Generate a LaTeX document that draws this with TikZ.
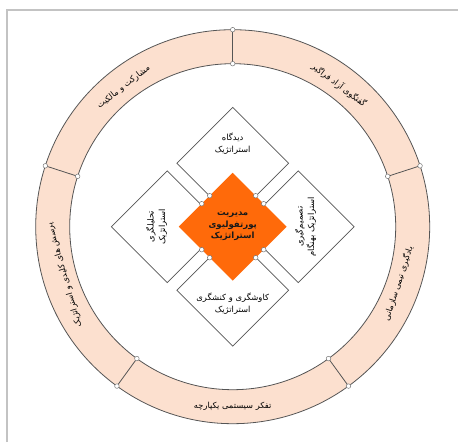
\documentclass[tikz,border=0pt]{standalone}
\usepackage{fontspec}
\TeXXeTstate=1
\newfontfamily\fa[Script=Arabic]{DejaVu Sans}
\usetikzlibrary{shapes.geometric}
\definecolor{ringfill}{RGB}{252,224,207}
\definecolor{orangec}{RGB}{255,106,10}
\definecolor{edgegray}{RGB}{85,85,85}
\definecolor{dotgray}{RGB}{120,120,120}
\definecolor{framegray}{RGB}{195,195,195}
\begin{document}
\begin{tikzpicture}[x=1pt,y=1pt,
  wdiam/.style={diamond, draw=edgegray, line width=0.7pt, fill=white, minimum width=112pt, minimum height=112pt, inner sep=0pt, aspect=1},
  odiam/.style={diamond, fill=orangec, minimum width=108pt, minimum height=108pt, inner sep=0pt, aspect=1},
  dtext/.style={font=\fa\fontsize{8.4}{11.5}\selectfont, align=center, inner sep=0pt, text=black},
  ctext/.style={font=\fa\bfseries\fontsize{8.6}{11.5}\selectfont, align=center, inner sep=0pt, text=black!90},
  rtext/.style={font=\fa\fontsize{8.3}{10}\selectfont, inner sep=0pt, text=black},
  dot/.style={circle, draw=dotgray, fill=white, line width=0.5pt, inner sep=0pt, minimum size=4.6pt}]
\useasboundingbox (0,0) rectangle (458,442);
\draw[framegray, line width=1.4pt] (7,0) -- (7,432) -- (458,432);
\begin{scope}[shift={(232.7,215.3)}]
  % ring
  \fill[ringfill, even odd rule] (0,0) circle (197) (0,0) circle (163);
  \draw[edgegray, line width=0.8pt] (0,0) circle (197) (0,0) circle (163);
  \foreach \a/\n in {18/a,90/b,162/c,234/d,306/e} {
    \coordinate (in\n) at (\a:163);
    \coordinate (out\n) at (\a:197);
    \draw[edgegray, line width=0.8pt] (in\n) -- (out\n);
    \node[dot] (din\n) at (in\n) {};
    \node[dot] (dout\n) at (out\n) {};
  }
  % ring labels
  \node[rtext, rotate=38] (r1) at (128:177) {\beginR مشارکت و مالکیت\endR};
  \node[rtext, rotate=-37] (r2) at (53:177) {\beginR گفتگوی آزاد فراگیر\endR};
  \node[rtext, rotate=72] (r3) at (341:175) {\beginR یادگیری تیمی سازمانی\endR};
  \node[rtext] (r4) at (270:180) {\beginR تفکر سیستمی یکپارچه\endR};
  \node[rtext, rotate=106] (r5) at (196:175) {\beginR پرسش های کلیدی و استراتژیک\endR};
  % diamonds
  \node[wdiam] (top) at (0,63.5) {};
  \node[wdiam] (bot) at (0,-63.5) {};
  \node[wdiam] (lef) at (-65.5,0) {};
  \node[wdiam] (rig) at (65.5,0) {};
  \node[dtext] (ttop) at (0,83) {\beginR دیدگاه\endR\\\beginR استراتژیک\endR};
  \node[dtext] (tbot) at (0,-77) {\beginR کاوشگری و کنشگری\endR\\\beginR استراتژیک\endR};
  \node[dtext, rotate=90] (tlef) at (-76,0) {\beginR تحلیلگری\endR\\\beginR استراتژیک\endR};
  \node[dtext, rotate=90] (trig) at (73,0) {\beginR تصمیم‌گیری\endR\\\beginR استراتژیک بهنگام\endR};
  \node[odiam] (mid) at (0,0) {};
  \node[ctext] (tmid) at (0,0) {\beginR مدیریت\endR\\\beginR پورتفولیوی\endR\\\beginR استراتژیک\endR};
  \foreach \x/\y/\n in {-23/31/1,23/31/2,-31/23/3,31/23/4,-31/-23/5,31/-23/6,-23/-31/7,23/-31/8} {
    \node[dot] (m\n) at (\x,\y) {};
  }
\end{scope}
\end{tikzpicture}
\end{document}
